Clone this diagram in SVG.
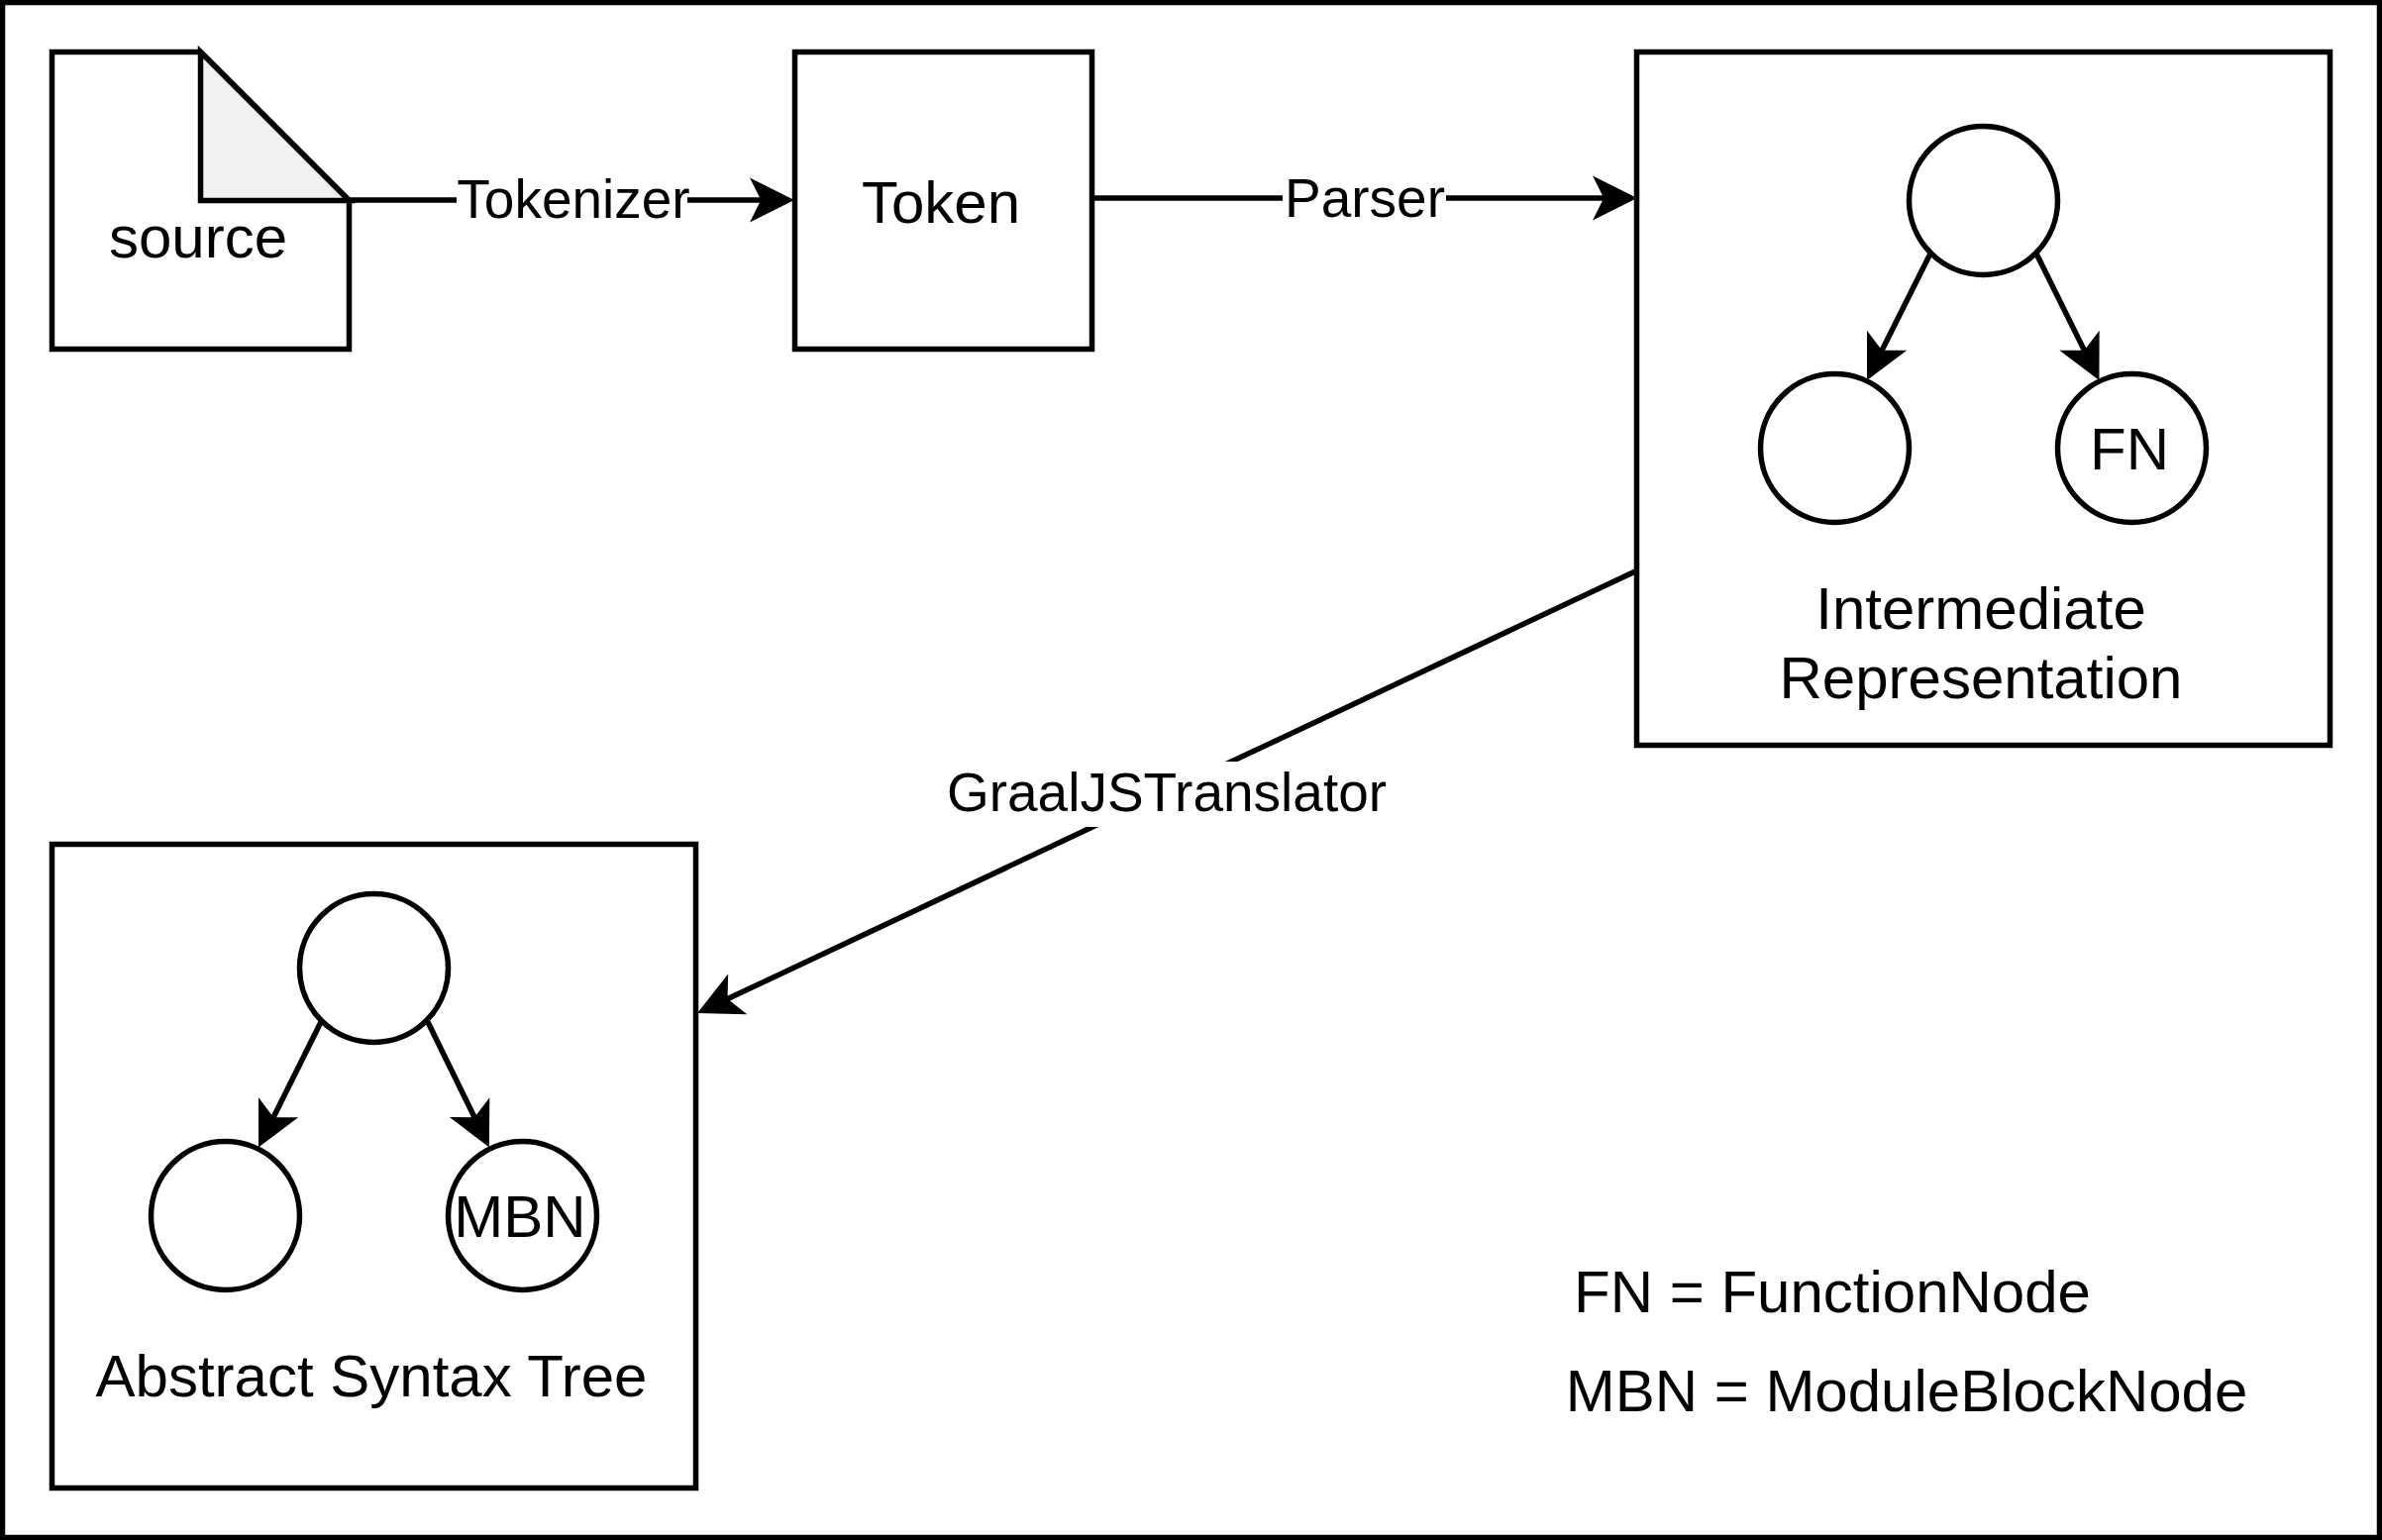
<svg xmlns="http://www.w3.org/2000/svg" width="2405" height="1555" viewBox="0 0 2405 1555">
<style>
.s{fill:#fff;stroke:#000;stroke-width:5.500}
.c{fill:none;stroke:#000;stroke-width:5.500;marker-end:url(#a)}
text{font-family:"Liberation Sans",Arial,sans-serif;fill:#000;text-anchor:middle}
.n{font-size:60px}
.l{font-size:55px}
</style>
<defs><marker id="a" markerUnits="userSpaceOnUse" markerWidth="48" markerHeight="48" refX="31" refY="24" orient="auto"><path d="M46 24L1 1.500L12.250 24L1 46.500Z" fill="#000"/></marker></defs>
<rect width="2405" height="1555" fill="#fff"/>
<rect id="frame" x="2.500" y="2.500" width="2400" height="1550" fill="none" stroke="#000" stroke-width="5.500"/>
<g id="source"><path class="s" d="M52.500 52.500H202.500L352.500 202.500V352.500H52.500Z"/><path d="M202.500 52.500V202.500H352.500Z" fill="#f2f2f2" stroke="#000" stroke-width="5.500"/><text class="n" x="200" y="260">source</text></g>
<g id="token"><rect class="s" x="802.500" y="52.500" width="300" height="300"/><text class="n" x="950" y="225">Token</text></g>
<g id="ir"><rect class="s" x="1652.500" y="52.500" width="700" height="700"/><circle class="s" cx="2002.500" cy="202.500" r="75"/><circle class="s" cx="1852.500" cy="452.500" r="75"/><circle class="s" cx="2152.500" cy="452.500" r="75"/><text class="n" x="2150" y="474">FN</text><text class="n" x="2000" y="635">Intermediate</text><text class="n" x="2000" y="705">Representation</text></g>
<g id="ast"><rect class="s" x="52.500" y="852.500" width="650" height="650"/><circle class="s" cx="377.500" cy="977.500" r="75"/><circle class="s" cx="227.500" cy="1227.500" r="75"/><circle class="s" cx="527.500" cy="1227.500" r="75"/><text class="n" x="525" y="1249">MBN</text><text class="n" x="375" y="1410">Abstract Syntax Tree</text></g>
<g id="legend"><text class="n" x="1850" y="1325">FN = FunctionNode</text><text class="n" x="1925" y="1425">MBN = ModuleBlockNode</text></g>
<g id="connectors">
<path class="c" d="M352 202H787"/><path class="c" d="M1102 200H1638"/>
<path class="c" d="M1651 577L717.600 1016.600"/>
<path class="c" d="M1949 256L1891.700 370.600"/><path class="c" d="M2056 256L2112.800 370.600"/>
<path class="c" d="M324 1032L267.700 1145"/><path class="c" d="M432 1032L487.300 1145"/>
<rect x="461" y="170" width="233" height="62" fill="#fff"/><text class="l" x="579" y="220">Tokenizer</text>
<rect x="1295" y="170" width="165" height="62" fill="#fff"/><text class="l" x="1378" y="219">Parser</text>
<rect x="950" y="769" width="456" height="66" fill="#fff"/><text class="l" x="1178" y="819">GraalJSTranslator</text>
</g>
</svg>
